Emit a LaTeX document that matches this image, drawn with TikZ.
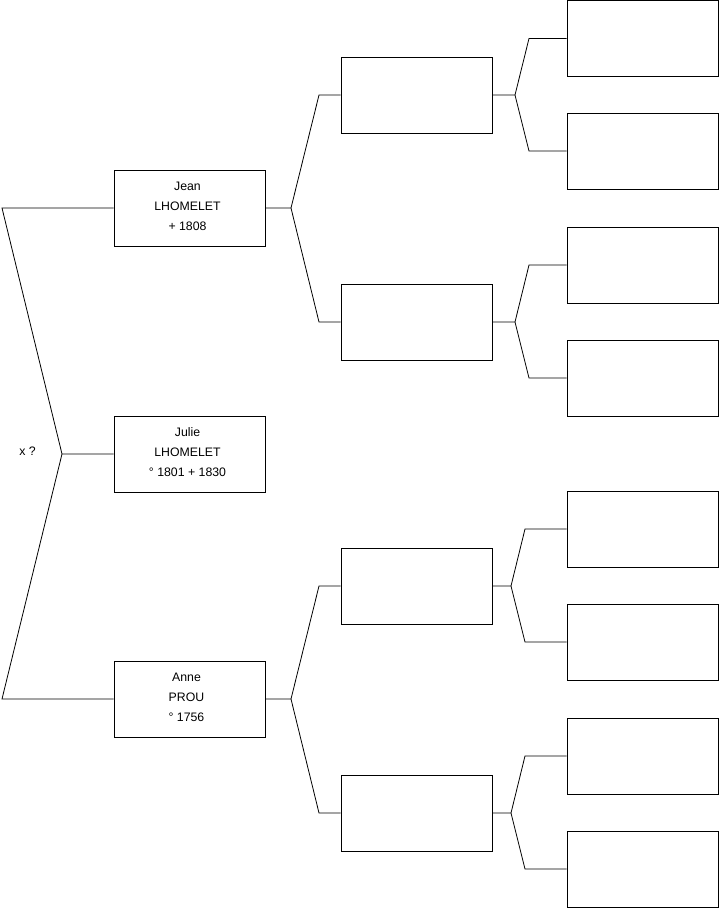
\documentclass[tikz,border=0pt]{standalone}
\usepackage{fontspec}
\setmainfont{Liberation Sans}
\begin{document}
\begin{tikzpicture}[x=1pt,y=-1pt,
  person/.style={draw=black,line width=0.8pt,minimum width=151pt,minimum height=76pt,inner sep=0pt},
  nametext/.style={inner sep=0pt,align=center,font=\fontsize{12.3}{20}\selectfont},
  link/.style={draw=black,line width=0.8pt}]
\useasboundingbox (0,0) rectangle (719,908);
% generation 1
\node[person] (j) at (189.5,208) {};
\node[person] (ju) at (189.5,454) {};
\node[person] (a) at (189.5,699) {};
\node[nametext] (jt) at (187.5,206) {Jean\\LHOMELET\\+ 1808};
\node[nametext] (jut) at (187.5,452) {Julie\\LHOMELET\\° 1801 + 1830};
\node[nametext] (at) at (186.5,697) {Anne\\PROU\\° 1756};
\node[font=\fontsize{12.3}{14}\selectfont] (x) at (27.5,451) {x ?};
% generation 2
\foreach \n/\y in {p1/95,p2/322,p3/586,p4/813}
  \node[person] (\n) at (416.5,\y) {};
% generation 3
\foreach \n/\y in {g1/38.5,g2/151,g3/265,g4/378,g5/529,g6/642,g7/756,g8/869}
  \node[person] (\n) at (642.5,\y) {};
% left fan
\coordinate (lt) at (2,208);
\coordinate (lm) at (62,454);
\coordinate (lb) at (2,699);
\draw[link] (j.west) -- (lt) -- (lm) -- (ju.west);
\draw[link] (lm) -- (lb) -- (a.west);
% generation 1 -> 2
\coordinate (jj) at (291,208);
\draw[link] (j.east) -- (jj) -- (319,95) -- (p1.west);
\draw[link] (jj) -- (319,322) -- (p2.west);
\coordinate (aj) at (291,699);
\draw[link] (a.east) -- (aj) -- (319,586) -- (p3.west);
\draw[link] (aj) -- (319,813) -- (p4.west);
% generation 2 -> 3
\coordinate (q1) at (515,95);
\draw[link] (p1.east) -- (q1) -- (529,38.5) -- (g1.west);
\draw[link] (q1) -- (529,151) -- (g2.west);
\coordinate (q2) at (515,322);
\draw[link] (p2.east) -- (q2) -- (529,265) -- (g3.west);
\draw[link] (q2) -- (529,378) -- (g4.west);
\coordinate (q3) at (511,586);
\draw[link] (p3.east) -- (q3) -- (525,529) -- (g5.west);
\draw[link] (q3) -- (525,642) -- (g6.west);
\coordinate (q4) at (511,813);
\draw[link] (p4.east) -- (q4) -- (525,756) -- (g7.west);
\draw[link] (q4) -- (525,869) -- (g8.west);
\end{tikzpicture}
\end{document}
